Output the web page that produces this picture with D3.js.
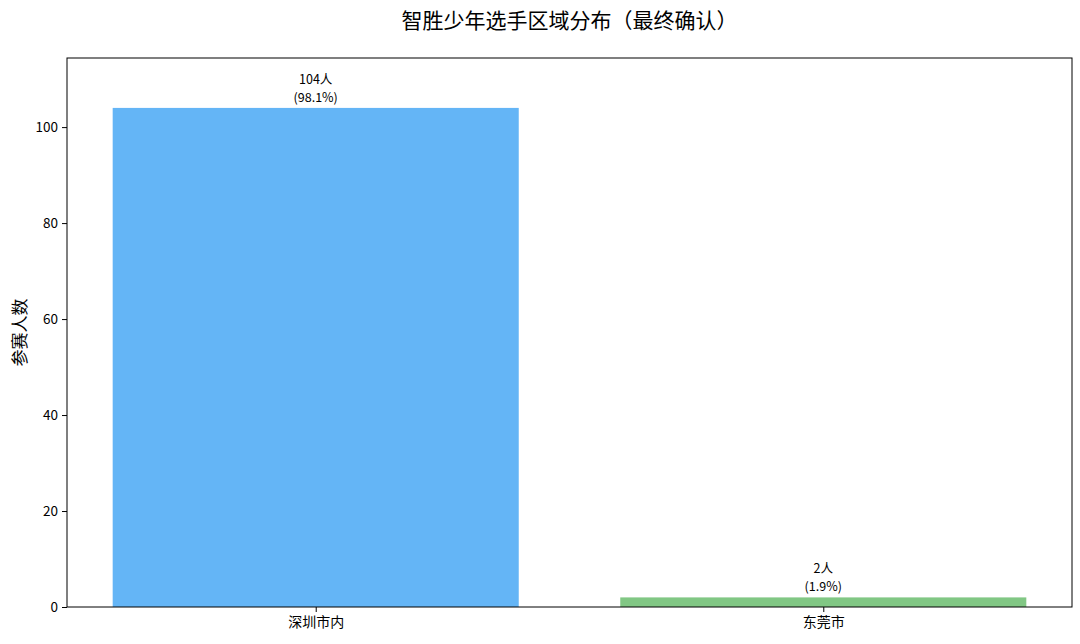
<!DOCTYPE html>
<html><head><meta charset="utf-8">
<script src="https://cdn.jsdelivr.net/npm/d3@7"></script>
<style>body{margin:0;background:#fff}svg{display:block}</style>
</head><body>
<svg id="c" width="1080" height="644"></svg>
<script>
const categories = ["深圳市内", "东莞市"];
const values = [104, 2];
const percents = ["98.1%", "1.9%"];
const colors = ["#64b5f6", "#81c784"];
const yTicks = [0, 20, 40, 60, 80, 100];
const title = "智胜少年选手区域分布（最终确认）";
const yLabel = "参赛人数";

const W = 1080, H = 644;
const m = {left: 67, right: 8, top: 58, bottom: 37};
const svg = d3.select("#c");
const font = "'Noto Sans CJK SC', 'Noto Sans', sans-serif";

const x = d3.scaleLinear().domain([-0.49, categories.length - 1 + 0.49]).range([m.left, W - m.right]);
const y = d3.scaleLinear().domain([0, d3.max(values) * 1.1]).range([H - m.bottom, m.top]);
const bw = 0.8;

const g = svg.append("g");
g.selectAll("rect.bar").data(values).join("rect")
  .attr("class", "bar")
  .attr("x", (d, i) => x(i - bw / 2))
  .attr("width", (d, i) => x(i + bw / 2) - x(i - bw / 2))
  .attr("y", d => y(d))
  .attr("height", d => y(0) - y(d))
  .attr("fill", (d, i) => colors[i]);

// labels
values.forEach((v, i) => {
  g.append("text").attr("text-anchor", "middle")
    .attr("font-family", font).attr("font-size", 12.5).attr("fill", "#000")
    .attr("x", x(i)).attr("y", y(v) - 24).text(v + "人");
  g.append("text").attr("text-anchor", "middle")
    .attr("font-family", font).attr("font-size", 12.5).attr("fill", "#000")
    .attr("x", x(i)).attr("y", y(v) - 6).text("(" + percents[i] + ")");
});

// frame
svg.append("rect").attr("x", m.left).attr("y", m.top)
  .attr("width", W - m.right - m.left).attr("height", H - m.bottom - m.top)
  .attr("fill", "none").attr("stroke", "#000").attr("stroke-width", 1);

// y axis
const ya = svg.append("g").attr("transform", `translate(${m.left},0)`)
  .call(d3.axisLeft(y).tickValues(yTicks).tickSize(5).tickPadding(4));
ya.select(".domain").remove();
ya.selectAll("text").attr("font-family", font).attr("font-size", 13.5).attr("fill", "#000");
ya.selectAll("line").attr("stroke", "#000");

// x axis
const xa = svg.append("g").attr("transform", `translate(0,${H - m.bottom})`)
  .call(d3.axisBottom(x).tickValues(categories.map((c, i) => i)).tickFormat(i => categories[i]).tickSize(5).tickPadding(5));
xa.select(".domain").remove();
xa.selectAll("text").attr("font-family", font).attr("font-size", 14).attr("fill", "#000");
xa.selectAll("line").attr("stroke", "#000");

// title
svg.append("text").attr("x", (m.left + W - m.right) / 2).attr("y", 28)
  .attr("text-anchor", "middle").attr("font-family", font).attr("font-size", 21)
  .attr("fill", "#000").text(title);

// y label
svg.append("text").attr("transform", `translate(26,${(m.top + H - m.bottom) / 2}) rotate(-90)`)
  .attr("text-anchor", "middle").attr("font-family", font).attr("font-size", 17)
  .attr("fill", "#000").text(yLabel);
</script>
</body></html>
